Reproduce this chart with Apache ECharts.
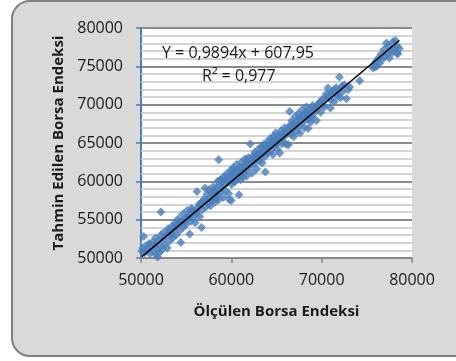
<!DOCTYPE html>
<html>
<head>
<meta charset="utf-8">
<script src="https://cdn.jsdelivr.net/npm/echarts@6/dist/echarts.min.js"></script>
<style>
  html, body { margin: 0; padding: 0; background: #fff; }
  #chart { width: 456px; height: 361px; }
</style>
</head>
<body>
<div id="chart"></div>
<script>
const measured = [
  50100, 50200, 50300, 50400, 50600, 50700, 50900, 51000, 51100, 51300,
  51400, 51500, 51600, 51700, 51800, 51850, 51900, 52000, 52100, 52200,
  52200, 52300, 52400, 52500, 52600, 52800, 52900, 53000, 53100, 53150,
  53300, 53400, 53450, 53500, 53600, 53750, 53800, 53900, 54000, 54100,
  54250, 54300, 54400, 54500, 54600, 54650, 54700, 54900, 55000, 55100,
  55250, 55300, 55400, 55500, 55600, 55650, 55700, 55800, 56000, 56100,
  56150, 56200, 56300, 56450, 56500, 56600, 56700, 56800, 56850, 57000,
  57100, 57200, 57300, 57400, 57500, 57600, 57700, 57800, 57900, 58000,
  58050, 58100, 58200, 58300, 58350, 58400, 58500, 58600, 58600, 58700,
  58750, 58800, 58900, 59000, 59050, 59100, 59200, 59300, 59350, 59400,
  59500, 59600, 59650, 59700, 59800, 59800, 59900, 59950, 60000, 60000,
  60100, 60150, 60200, 60300, 60400, 60450, 60500, 60600, 60650, 60850,
  60800, 60900, 60950, 61000, 61100, 61200, 61250, 61300, 61400, 61450,
  61500, 61600, 61700, 61750, 61800, 61900, 62000, 62050, 62100, 62200,
  62300, 62350, 62400, 62500, 62600, 62650, 62700, 62800, 62900, 62950,
  63000, 63100, 63200, 63250, 63300, 63400, 63500, 63550, 63600, 63700,
  63770, 63850, 63900, 64000, 64100, 64150, 64200, 64300, 64400, 64450,
  64500, 64600, 64700, 64750, 64800, 64900, 65000, 65050, 65100, 65200,
  65350, 65350, 65400, 65500, 65600, 65650, 65700, 65800, 65900, 65950,
  66000, 66100, 66200, 66250, 66320, 66460, 66500, 66550, 66600, 66700,
  66800, 66850, 66900, 67000, 67100, 67150, 67200, 67300, 67400, 67450,
  67500, 67600, 67700, 67750, 67800, 67900, 68000, 68050, 68100, 68200,
  68300, 68350, 68400, 68500, 68600, 68650, 68700, 68800, 68900, 68950,
  69000, 69100, 69250, 69420, 69500, 69550, 69700, 69850, 69900, 70100,
  70150, 70300, 70450, 70500, 70700, 70750, 70970, 71000, 71050, 71200,
  71350, 71400, 71600, 71650, 71800, 71950, 71960, 72100, 72250, 72300,
  72500, 72740, 72920, 73100, 74210, 75680, 75800, 75900, 76000, 76100,
  76300, 76400, 76600, 76700, 76900, 77000, 77170, 77300, 77400, 77500,
  77700, 77800, 77900, 78100, 78160, 78300, 78400, 78450, 78600
];
const predicted = [
  50900, 51300, 52800, 50700, 51600, 51100, 51900, 50600, 51400, 52100,
  50900, 51700, 52600, 50400, 51200, 50130, 52300, 50700, 51600, 56000,
  53000, 51000, 52400, 53300, 51700, 52900, 51300, 53800, 52200, 53600,
  53200, 54100, 53000, 52600, 53700, 54200, 54600, 53000, 54200, 55100,
  54800, 53600, 52030, 54700, 55700, 54500, 54000, 55200, 54400, 56200,
  55300, 55500, 53130, 54800, 56500, 56100, 55200, 56000, 54600, 55700,
  56000, 58690, 56600, 57000, 55400, 57100, 53990, 56300, 57400, 57700,
  59130, 56700, 58300, 57200, 58900, 57800, 56800, 58500, 57500, 59300,
  58800, 58200, 57300, 59000, 57800, 58300, 60000, 62820, 57600, 59500,
  60100, 58600, 60300, 59200, 60000, 57900, 60600, 59600, 60200, 58700,
  61000, 59900, 60400, 58400, 60700, 57600, 61400, 60100, 59600, 57500,
  60900, 61400, 61800, 59900, 61100, 60000, 60400, 62200, 61500, 58260,
  60800, 61700, 61100, 60200, 62500, 61200, 61900, 60500, 62000, 61600,
  62900, 61400, 60700, 62800, 62300, 63100, 61900, 62300, 64870, 62600,
  61100, 62800, 63300, 62300, 63800, 63200, 62900, 61600, 63500, 62900,
  64200, 62700, 63600, 63300, 64500, 62400, 63900, 64400, 64800, 63200,
  61217, 63800, 64300, 65200, 63700, 64400, 64800, 65600, 64100, 65400,
  65000, 63500, 65900, 65300, 64700, 66300, 65300, 64900, 64200, 66000,
  63700, 65900, 65600, 66600, 64900, 65700, 66200, 65100, 67000, 66400,
  66000, 64800, 66700, 66300, 64780, 69120, 67300, 67100, 66100, 67900,
  66800, 67400, 65800, 67600, 68500, 67300, 66500, 67900, 68800, 68100,
  67200, 66300, 68400, 68000, 69300, 67700, 68600, 68300, 67000, 69000,
  69700, 68800, 68100, 66900, 68900, 68200, 69500, 67700, 68400, 69200,
  69900, 68800, 69600, 67950, 69300, 70000, 70200, 70400, 69000, 70700,
  70000, 69700, 70900, 71400, 72170, 71000, 69560, 70600, 71600, 71600,
  71900, 70400, 72200, 71400, 71100, 72000, 73610, 70900, 72400, 71700,
  72600, 70780, 71950, 72300, 73125, 74780, 75200, 74900, 75600, 75000,
  76100, 75400, 76600, 75900, 77200, 76300, 78040, 76600, 77700, 76100,
  77200, 76800, 78200, 77400, 78380, 76700, 77600, 76650, 77300
];
// trendline as printed on the chart
const trendSlope = 0.9894;
const trendIntercept = 607.95;
const trendRange = [50100, 78600];
const xTicks = [50000, 60000, 70000, 80000];
const yTicks = [50000, 55000, 60000, 65000, 70000, 75000, 80000];
// light gridlines between the labelled ones
const minorGrid = [
  51000, 52000, 53000, 54000, 56000, 57000, 58000, 59000,
  61000, 62000, 63000, 64000, 66000, 67000, 68000, 69000,
  71000, 72000, 73000, 74000, 76000, 77000, 78000, 79000
];

const points = measured.map((x, i) => [x, predicted[i]]);
const trend = trendRange.map(x => [x, trendSlope * x + trendIntercept]);

const chart = echarts.init(document.getElementById('chart'), null, { renderer: 'canvas' });
const font = '"Open Sans", "Liberation Sans", sans-serif';
const plot = { left: 141, top: 28, width: 271, height: 230 };

chart.setOption({
  backgroundColor: '#ffffff',
  animation: false,
  graphic: [
    {
      type: 'rect',
      z: -10,
      shape: { x: 12, y: 1, width: 470, height: 355, r: 18 },
      style: { fill: '#d9d9d9', stroke: '#7f7f7f', lineWidth: 2 }
    },
    {
      // white plot area, kept behind the gridlines
      type: 'rect',
      z: -5,
      shape: { x: plot.left, y: plot.top, width: plot.width, height: plot.height },
      style: { fill: '#ffffff' }
    },
    {
      type: 'text',
      z: 10,
      left: 162,
      top: 45,
      style: { text: 'Y = 0,9894x + 607,95', font: '16px ' + font, fill: '#1a1a1a' }
    },
    {
      type: 'text',
      z: 10,
      left: 202,
      top: 68,
      style: { text: 'R² = 0,977', font: '16px ' + font, fill: '#1a1a1a' }
    }
  ],
  grid: {
    left: plot.left,
    top: plot.top,
    width: plot.width,
    height: plot.height,
    show: false
  },
  xAxis: {
    type: 'value',
    min: xTicks[0],
    max: xTicks[xTicks.length - 1],
    interval: 10000,
    name: 'Ölçülen Borsa Endeksi',
    nameLocation: 'middle',
    nameGap: 46,
    nameTextStyle: { fontFamily: font, fontSize: 15, fontWeight: 'bold', color: '#1a1a1a' },
    axisLine: { show: true, lineStyle: { color: '#868686', width: 1.5 } },
    axisTick: { show: true, inside: false, length: 5, lineStyle: { color: '#868686', width: 1.5 } },
    axisLabel: { margin: 14, fontFamily: font, fontSize: 16, color: '#1a1a1a', formatter: v => String(v) },
    splitLine: { show: false }
  },
  yAxis: {
    type: 'value',
    min: yTicks[0],
    max: yTicks[yTicks.length - 1],
    interval: 5000,
    name: 'Tahmin Edilen Borsa Endeksi',
    nameLocation: 'middle',
    nameGap: 74,
    nameTextStyle: { fontFamily: font, fontSize: 15, fontWeight: 'bold', color: '#1a1a1a' },
    axisLine: { show: true, lineStyle: { color: '#4a7ebb', width: 2 } },
    axisTick: { show: true, inside: false, length: 5, lineStyle: { color: '#4a7ebb', width: 1.5 } },
    axisLabel: { margin: 18, fontFamily: font, fontSize: 16, color: '#1a1a1a', formatter: v => String(v) },
    splitLine: { show: true, lineStyle: { color: '#8c8c8c', width: 2 } }
  },
  series: [
    {
      name: 'grid',
      type: 'line',
      data: [],
      z: 1,
      silent: true,
      markLine: {
        z: 1,
        silent: true,
        animation: false,
        symbol: ['none', 'none'],
        label: { show: false },
        lineStyle: { color: '#c4c4c4', width: 1.5, type: 'solid' },
        emphasis: { disabled: true },
        data: minorGrid.map(v => ({ yAxis: v }))
      }
    },
    {
      name: 'Tahmin',
      type: 'scatter',
      data: points,
      symbol: 'diamond',
      symbolSize: 9,
      itemStyle: { color: '#4a7ebb' },
      z: 3
    },
    {
      name: 'Trend',
      type: 'line',
      data: trend,
      showSymbol: false,
      symbol: 'none',
      lineStyle: { color: '#000000', width: 1.5 },
      z: 5
    }
  ]
});
</script>
</body>
</html>
